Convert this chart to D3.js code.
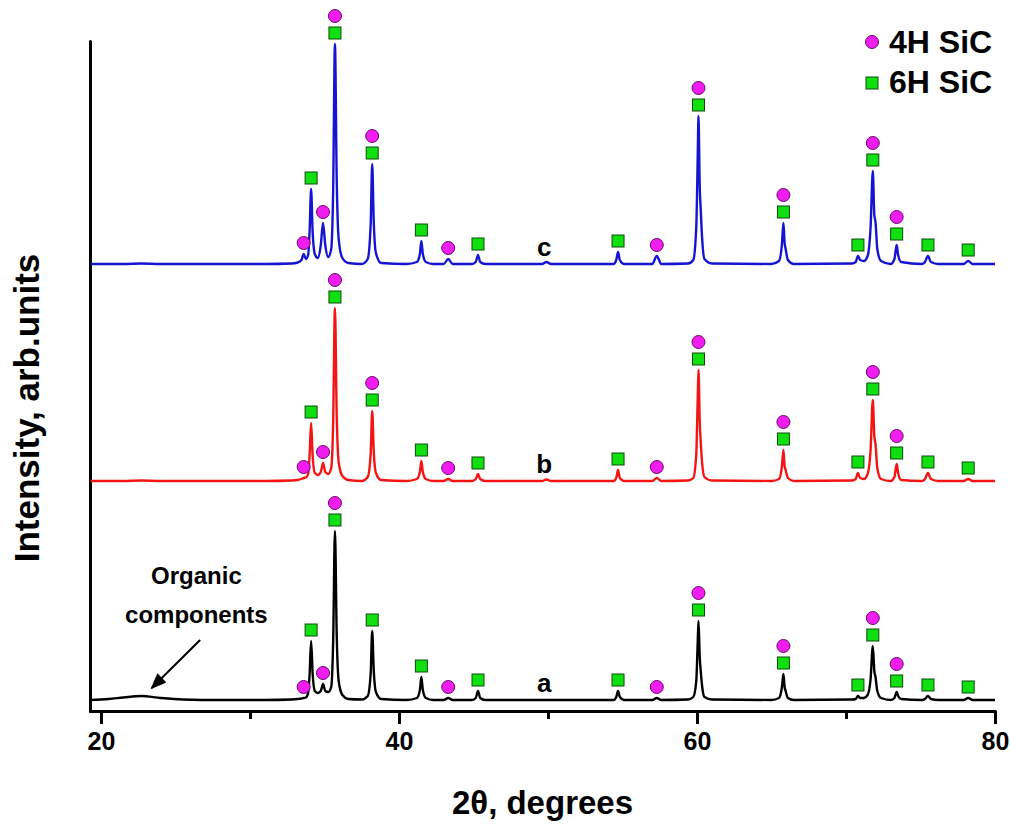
<!DOCTYPE html>
<html>
<head>
<meta charset="utf-8">
<script src="https://cdnjs.cloudflare.com/ajax/libs/d3/7.8.5/d3.min.js"></script>
<style>
    body { margin: 0; background: #fff; }
    svg text { font-family: "Liberation Sans", Arial, sans-serif; font-weight: bold; fill: #000; }
</style>
</head>
<body>
<svg id="chart" width="1010" height="824"></svg>
<script>

//--- Data (arb. units) --------------------------------------------------------------------------   //

var twoTheta = [19.3, 20.5, 21.5, 22.7, 24.0, 25.5, 28.0, 31.0, 32.8,
    33.2, 33.45, 33.6, 33.75, 33.9, 34.0, 34.1, 34.2, 34.35, 34.55, 34.75, 34.9, 35.05, 35.25,
    35.45, 35.58, 35.7, 35.82, 35.95, 36.2, 36.6, 37.5,
    37.9, 38.1, 38.2, 38.3, 38.45, 38.8, 40.5,
    41.2, 41.4, 41.5, 41.6, 41.8, 42.3, 43.0, 43.3, 43.6,
    44.9, 45.15, 45.3, 45.45, 45.8, 49.6, 49.9, 50.2,
    54.4, 54.58, 54.7, 54.82, 55.1, 57.0, 57.3, 57.6,
    59.4, 59.75, 59.95, 60.05, 60.1, 60.18, 60.25, 60.35, 60.5, 61.0,
    65.0, 65.5, 65.7, 65.8, 65.88, 65.95, 66.1, 66.5,
    70.4, 70.65, 70.8, 70.95, 71.2, 71.45, 71.65, 71.8, 71.9, 71.98, 72.1, 72.35,
    73.0, 73.25, 73.4, 73.5, 73.7, 75.1, 75.3, 75.5, 75.7, 76.2, 77.9, 78.2, 78.5, 80.0];

var intensityA = [1, 2, 3.5, 5, 3, 1.5, 1, 1, 1.5,
    2, 2.5, 3, 3.5, 8, 27, 60, 28, 10, 8, 10, 17, 10, 9,
    14, 60, 170, 65, 20, 6, 2, 1.5,
    5, 28, 70, 32, 9, 2, 1,
    3, 11, 24, 11, 3, 1, 1, 3, 1,
    1, 3, 10, 3, 1, 1, 1, 1,
    1, 4, 10, 4, 1, 1, 3, 1,
    1.5, 4, 20, 60, 80, 45, 30, 14, 4, 1.5,
    1, 3, 14, 27, 14, 10, 3, 1,
    1.5, 2, 5, 3, 3, 6, 22, 55, 30, 24, 10, 3,
    1, 3, 9, 5, 2, 1, 2, 5, 2, 1, 1, 3, 1, 1];

var intensityB = [1, 1, 1, 1.5, 1, 1, 1, 1, 1.5,
    2, 3, 4, 4.5, 8, 27, 59, 27, 9, 7, 10, 19, 10, 8,
    14, 60, 174, 66, 20, 6, 2, 1,
    5, 29, 71, 32, 9, 2, 1,
    3, 10, 21, 10, 3, 1, 1, 3, 1,
    1, 3, 8, 3, 1, 1, 2.5, 1,
    1, 4, 12, 4, 1, 1, 4, 1,
    1.5, 4, 28, 85, 112, 62, 40, 18, 5, 1.5,
    1, 3, 16, 32, 16, 12, 4, 1,
    1.5, 3, 9, 4, 3, 8, 32, 82, 46, 38, 14, 3,
    1, 5, 18, 9, 2, 1, 3, 9, 3, 1, 1, 3, 1, 1];

var intensityC = [1, 1, 1, 1.5, 1, 1, 1, 1, 1.5,
    2.5, 5, 11, 6, 10, 34, 76, 34, 11, 7, 20, 42, 20, 8,
    16, 75, 221, 84, 26, 7, 2, 1,
    6, 42, 101, 45, 12, 2, 1,
    3, 11, 24, 11, 3, 1, 1, 6, 1,
    1, 3, 10, 3, 1, 1, 3, 1,
    1, 5, 13, 5, 1, 1, 9, 1,
    1.5, 5, 38, 110, 149, 80, 55, 25, 6, 1.5,
    1, 4, 21, 42, 22, 16, 5, 1,
    1.5, 3, 9, 5, 4, 9, 38, 94, 50, 43, 16, 4,
    1, 6, 20, 10, 3, 1, 3, 9, 3, 1, 1, 4, 1, 1];

var traceNames   = ["a", "b", "c"];
var traceColors  = ["#000000", "#f51414", "#1414d2"];
var traceOffsets = [10, 229, 446];

// reflections marked on each pattern
var peaks4H   = [33.6, 34.9, 35.7, 38.2, 43.3, 57.3, 60.1, 65.8, 71.8, 73.4];
var peaks4H_a = [33.6, 34.9, 35.7, 43.3, 57.3, 60.1, 65.8, 71.8, 73.4];
var peaks6H   = [34.1, 35.7, 38.2, 41.5, 45.3, 54.7, 60.1, 65.8, 70.8, 71.8, 73.4, 75.5, 78.2];

var xTicksMajor = [20, 40, 60, 80];
var xTicksMinor = [30, 50, 70];
var legendNames = ["4H SiC", "6H SiC"];


//--- Setup -------------------------------------------------------------------------------------------   //

var circleFill = "#f01cf0", circleStroke = "#6a0a6a";
var squareFill = "#10e010", squareStroke = "#0a4a0a";
var sq = 12;

var svg = d3.select("#chart");

var x = d3.scaleLinear().domain([19.26, 80]).range([90, 995]);
var y = d3.scaleLinear().domain([0, 670]).range([711, 41]);

var traces = [intensityA, intensityB, intensityC];


//--- Axes --------------------------------------------------------------------------------------------   //

var xAxis = svg.append("g")
    .attr("transform", "translate(0," + y(0) + ")")
    .call(d3.axisBottom(x).tickValues(xTicksMajor).tickSize(13).tickSizeOuter(0).tickPadding(8).tickFormat(d3.format("d")));
xAxis.select(".domain").attr("stroke-width", 3).attr("stroke-linecap", "round");
xAxis.selectAll(".tick line").attr("stroke-width", 3);
xAxis.selectAll(".tick text").attr("font-size", 25).attr("font-family", null);

var xMinor = svg.append("g")
    .attr("transform", "translate(0," + y(0) + ")")
    .call(d3.axisBottom(x).tickValues(xTicksMinor).tickSize(8).tickSizeOuter(0).tickFormat(""));
xMinor.select(".domain").remove();
xMinor.selectAll(".tick line").attr("stroke-width", 3);

var yAxis = svg.append("g")
    .attr("transform", "translate(" + x.range()[0] + ",0)")
    .call(d3.axisLeft(y).tickValues([]).tickSizeOuter(0));
yAxis.select(".domain").attr("stroke-width", 3).attr("stroke-linecap", "round");

svg.append("text")
    .attr("x", (x.range()[0] + x.range()[1]) / 2)
    .attr("y", 814)
    .attr("text-anchor", "middle")
    .attr("font-size", 33)
    .text("2θ, degrees");

svg.append("text")
    .attr("transform", "translate(39," + 408 + ") rotate(-90)")
    .attr("text-anchor", "middle")
    .attr("font-size", 35)
    .text("Intensity, arb.units");


//--- Patterns ----------------------------------------------------------------------------------------   //

traces.forEach(function(vals, k) {
    var off = traceOffsets[k];

    var line = d3.line()
        .x(function(d, i) { return x(twoTheta[i]); })
        .y(function(d) { return y(d + off); })
        .curve(d3.curveMonotoneX);

    svg.append("path")
        .datum(vals)
        .attr("fill", "none")
        .attr("stroke", traceColors[k])
        .attr("stroke-width", 2.4)
        .attr("stroke-linejoin", "round")
        .attr("d", line);

    // pattern label
    svg.append("text")
        .attr("x", x(49.75))
        .attr("y", y(off + 1) - 8)
        .attr("text-anchor", "middle")
        .attr("font-size", 26)
        .text(traceNames[k]);

    // phase markers above the peaks
    var list4H = k == 0 ? peaks4H_a : peaks4H;
    var marks = [];
    peaks6H.forEach(function(p) {
        var top = y(vals[twoTheta.indexOf(p)] + off);
        marks.push({ type: "sq", x: x(p), y: top - 11 });
    });
    list4H.forEach(function(p) {
        var top = y(vals[twoTheta.indexOf(p)] + off);
        var lift = peaks6H.indexOf(p) >= 0 ? 28 : 11;
        marks.push({ type: "ci", x: x(p), y: top - lift });
    });

    var g = svg.append("g");
    g.selectAll("rect")
        .data(marks.filter(function(m) { return m.type == "sq"; }))
        .enter().append("rect")
        .attr("x", function(m) { return m.x - sq / 2; })
        .attr("y", function(m) { return m.y - sq / 2; })
        .attr("width", sq).attr("height", sq)
        .attr("fill", squareFill)
        .attr("stroke", squareStroke)
        .attr("stroke-width", 1);
    g.selectAll("circle")
        .data(marks.filter(function(m) { return m.type == "ci"; }))
        .enter().append("circle")
        .attr("cx", function(m) { return m.x; })
        .attr("cy", function(m) { return m.y; })
        .attr("r", 6.5)
        .attr("fill", circleFill)
        .attr("stroke", circleStroke)
        .attr("stroke-width", 1);
});


//--- Annotation --------------------------------------------------------------------------------------   //

svg.append("defs").append("marker")
    .attr("id", "arrowhead")
    .attr("viewBox", "0 0 10 10")
    .attr("refX", 9).attr("refY", 5)
    .attr("markerWidth", 8).attr("markerHeight", 8)
    .attr("orient", "auto")
    .append("path")
    .attr("d", "M0,1 L10,5 L0,9 Z")
    .attr("fill", "#000");

svg.append("line")
    .attr("x1", x(26.65)).attr("y1", y(71))
    .attr("x2", x(23.4)).attr("y2", y(23))
    .attr("stroke", "#000")
    .attr("stroke-width", 2)
    .attr("marker-end", "url(#arrowhead)");

svg.append("text")
    .attr("x", x(26.4)).attr("y", 584)
    .attr("text-anchor", "middle")
    .attr("font-size", 24)
    .text("Organic");
svg.append("text")
    .attr("x", x(26.4)).attr("y", 623)
    .attr("text-anchor", "middle")
    .attr("font-size", 24)
    .text("components");


//--- Legend ------------------------------------------------------------------------------------------   //

var legend = svg.append("g").attr("transform", "translate(872,42)");

legend.append("circle")
    .attr("cx", 0).attr("cy", 0).attr("r", 6.5)
    .attr("fill", circleFill).attr("stroke", circleStroke).attr("stroke-width", 1);
legend.append("rect")
    .attr("x", -sq / 2).attr("y", 41 - sq / 2).attr("width", sq).attr("height", sq)
    .attr("fill", squareFill).attr("stroke", squareStroke).attr("stroke-width", 1);

legend.selectAll("text")
    .data(legendNames)
    .enter().append("text")
    .attr("x", 17)
    .attr("y", function(d, i) { return 11 + i * 40; })
    .attr("font-size", 32)
    .text(function(d) { return d; });

</script>
</body>
</html>
